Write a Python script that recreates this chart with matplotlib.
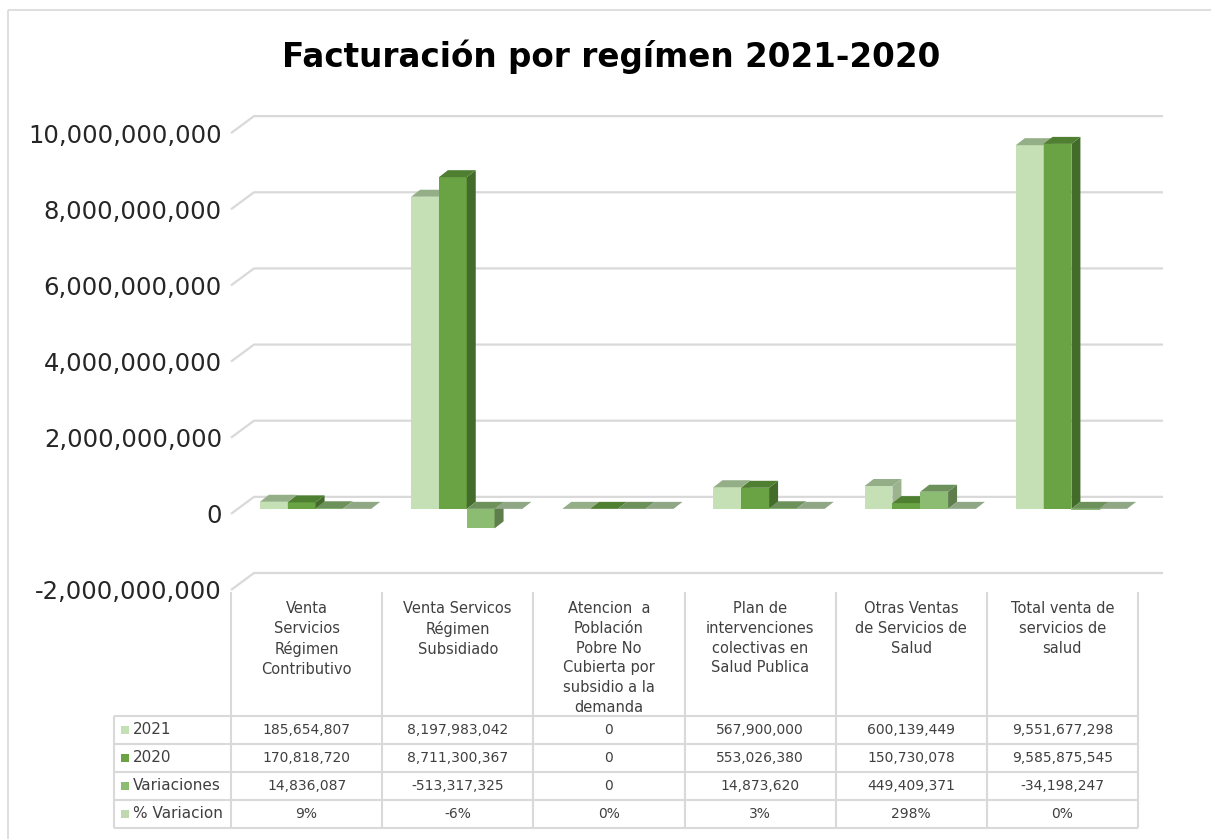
import matplotlib
matplotlib.use("Agg")
import matplotlib.pyplot as plt
import numpy as np
from matplotlib.patches import Rectangle

categories = [
    "Venta\nServicios\nRégimen\nContributivo",
    "Venta Servicos\nRégimen\nSubsidiado",
    "Atencion  a\nPoblación\nPobre No\nCubierta por\nsubsidio a la\ndemanda",
    "Plan de\nintervenciones\ncolectivas en\nSalud Publica",
    "Otras Ventas\nde Servicios de\nSalud",
    "Total venta de\nservicios de\nsalud",
]
series = ["2021", "2020", "Variaciones", "% Variacion"]
v2021 = [185654807, 8197983042, 0, 567900000, 600139449, 9551677298]
v2020 = [170818720, 8711300367, 0, 553026380, 150730078, 9585875545]
variaciones = [14836087, -513317325, 0, 14873620, 449409371, -34198247]
pct_variacion = [9, -6, 0, 3, 298, 0]
y_ticks = [-2e9, 0, 2e9, 4e9, 6e9, 8e9, 10e9]

# front, side, top
colors = {
    "2021": ("#C5E0B4", "#9BB48E", "#94AE87"),
    "2020": ("#6AA343", "#436B29", "#4F7F31"),
    "Variaciones": ("#8CBB72", "#5E7E4C", "#6C915A"),
    "% Variacion": ("#BFD8AF", "#869D7C", "#8FA785"),
}
grid_col = "#D9D9D9"
text_col = "#404040"

W, H = 1211, 839
fig = plt.figure(figsize=(W / 100, H / 100), dpi=100)


def rect(x0, y0, x1, y1):
    return [x0 / W, 1 - y1 / H, (x1 - x0) / W, (y1 - y0) / H]


bg = fig.add_axes([0, 0, 1, 1])
bg.set_xlim(0, W)
bg.set_ylim(H, 0)
bg.axis("off")
# chart frame, only left and top edges fall inside the picture
bg.add_patch(Rectangle((8, 10), W + 50, H + 50, fill=False, ec=grid_col, lw=1.2))

bg.text(611, 67, "Facturación por regímen 2021-2020", ha="center", va="baseline",
        fontsize=23.5, fontweight="bold", color="black")

ax = fig.add_axes(rect(231, 100, 1138, 590), zorder=2)
ax.patch.set_visible(False)
for s in ax.spines.values():
    s.set_visible(False)

px_x = 6 / 907.0          # category units per pixel
px_y = 12.87e9 / 490.0    # value units per pixel

# back wall gridlines
wall_dx, wall_dy = 23 * px_x, 17 * px_y
for v in y_ticks:
    ax.plot([-0.5, -0.5 + wall_dx, 5.5 + wall_dx + 2 * px_x], [v, v + wall_dy, v + wall_dy],
            color=grid_col, lw=1.6, clip_on=False, zorder=1, solid_capstyle="butt")

# pseudo 3d columns
values = [v2021, v2020, variaciones, [p / 100 for p in pct_variacion]]
bw = 0.184
shift_x = 9 * px_x
lift = 5 * px_y
dx, dy = 9 * px_x, 7 * px_y
z = 3
for i in range(len(categories)):
    for j, name in enumerate(series):
        v = values[j][i]
        x0 = i - 2 * bw + j * bw + shift_x
        b, t = min(v, 0) + lift, max(v, 0) + lift
        front, side, top = colors[name]
        ax.bar(x0, t - b, width=bw, bottom=b, align="edge", color=front, lw=0, zorder=z)
        ax.fill([x0 + bw, x0 + bw + dx, x0 + bw + dx, x0 + bw], [b, b + dy, t + dy, t],
                color=side, lw=0, zorder=z)
        ax.fill([x0, x0 + dx, x0 + bw + dx, x0 + bw], [t, t + dy, t + dy, t],
                color=top, lw=0, zorder=z)
        z += 1

ax.set_xlim(-0.5, 5.5)
ax.set_ylim(-2e9, 10.87e9)
ax.set_xticks([])
ax.set_yticks(y_ticks)
ax.set_yticklabels([f"{int(v):,}" for v in y_ticks])
ax.tick_params(axis="y", length=0, pad=6.5, labelsize=17.5, labelcolor="#262626")

# data table
col_edges = np.linspace(231, 1138, len(categories) + 1)
row_edges = [716, 744, 772, 800, 828]
line_kw = dict(color=grid_col, lw=1.5, solid_capstyle="butt")
for x in col_edges:
    bg.plot([x, x], [592, 828], **line_kw)
bg.plot([114, 114], [716, 828], **line_kw)
for y in row_edges:
    bg.plot([114, 1138], [y, y], **line_kw)

for i, cat in enumerate(categories):
    cx = (col_edges[i] + col_edges[i + 1]) / 2
    bg.text(cx, 601, cat, ha="center", va="top", fontsize=10.5, linespacing=1.4, color=text_col)

cells = [
    [f"{v:,}" for v in v2021],
    [f"{v:,}" for v in v2020],
    [f"{v:,}" for v in variaciones],
    [f"{p}%" for p in pct_variacion],
]
for r, name in enumerate(series):
    yc = (row_edges[r] + row_edges[r + 1]) / 2
    bg.add_patch(Rectangle((121, yc - 4), 8, 8, color=colors[name][0], lw=0))
    bg.text(133, yc, name, ha="left", va="center", fontsize=11, color=text_col)
    for i, s in enumerate(cells[r]):
        cx = (col_edges[i] + col_edges[i + 1]) / 2
        bg.text(cx, yc, s, ha="center", va="center", fontsize=10, color=text_col)

fig.savefig("out.png", dpi=100)
